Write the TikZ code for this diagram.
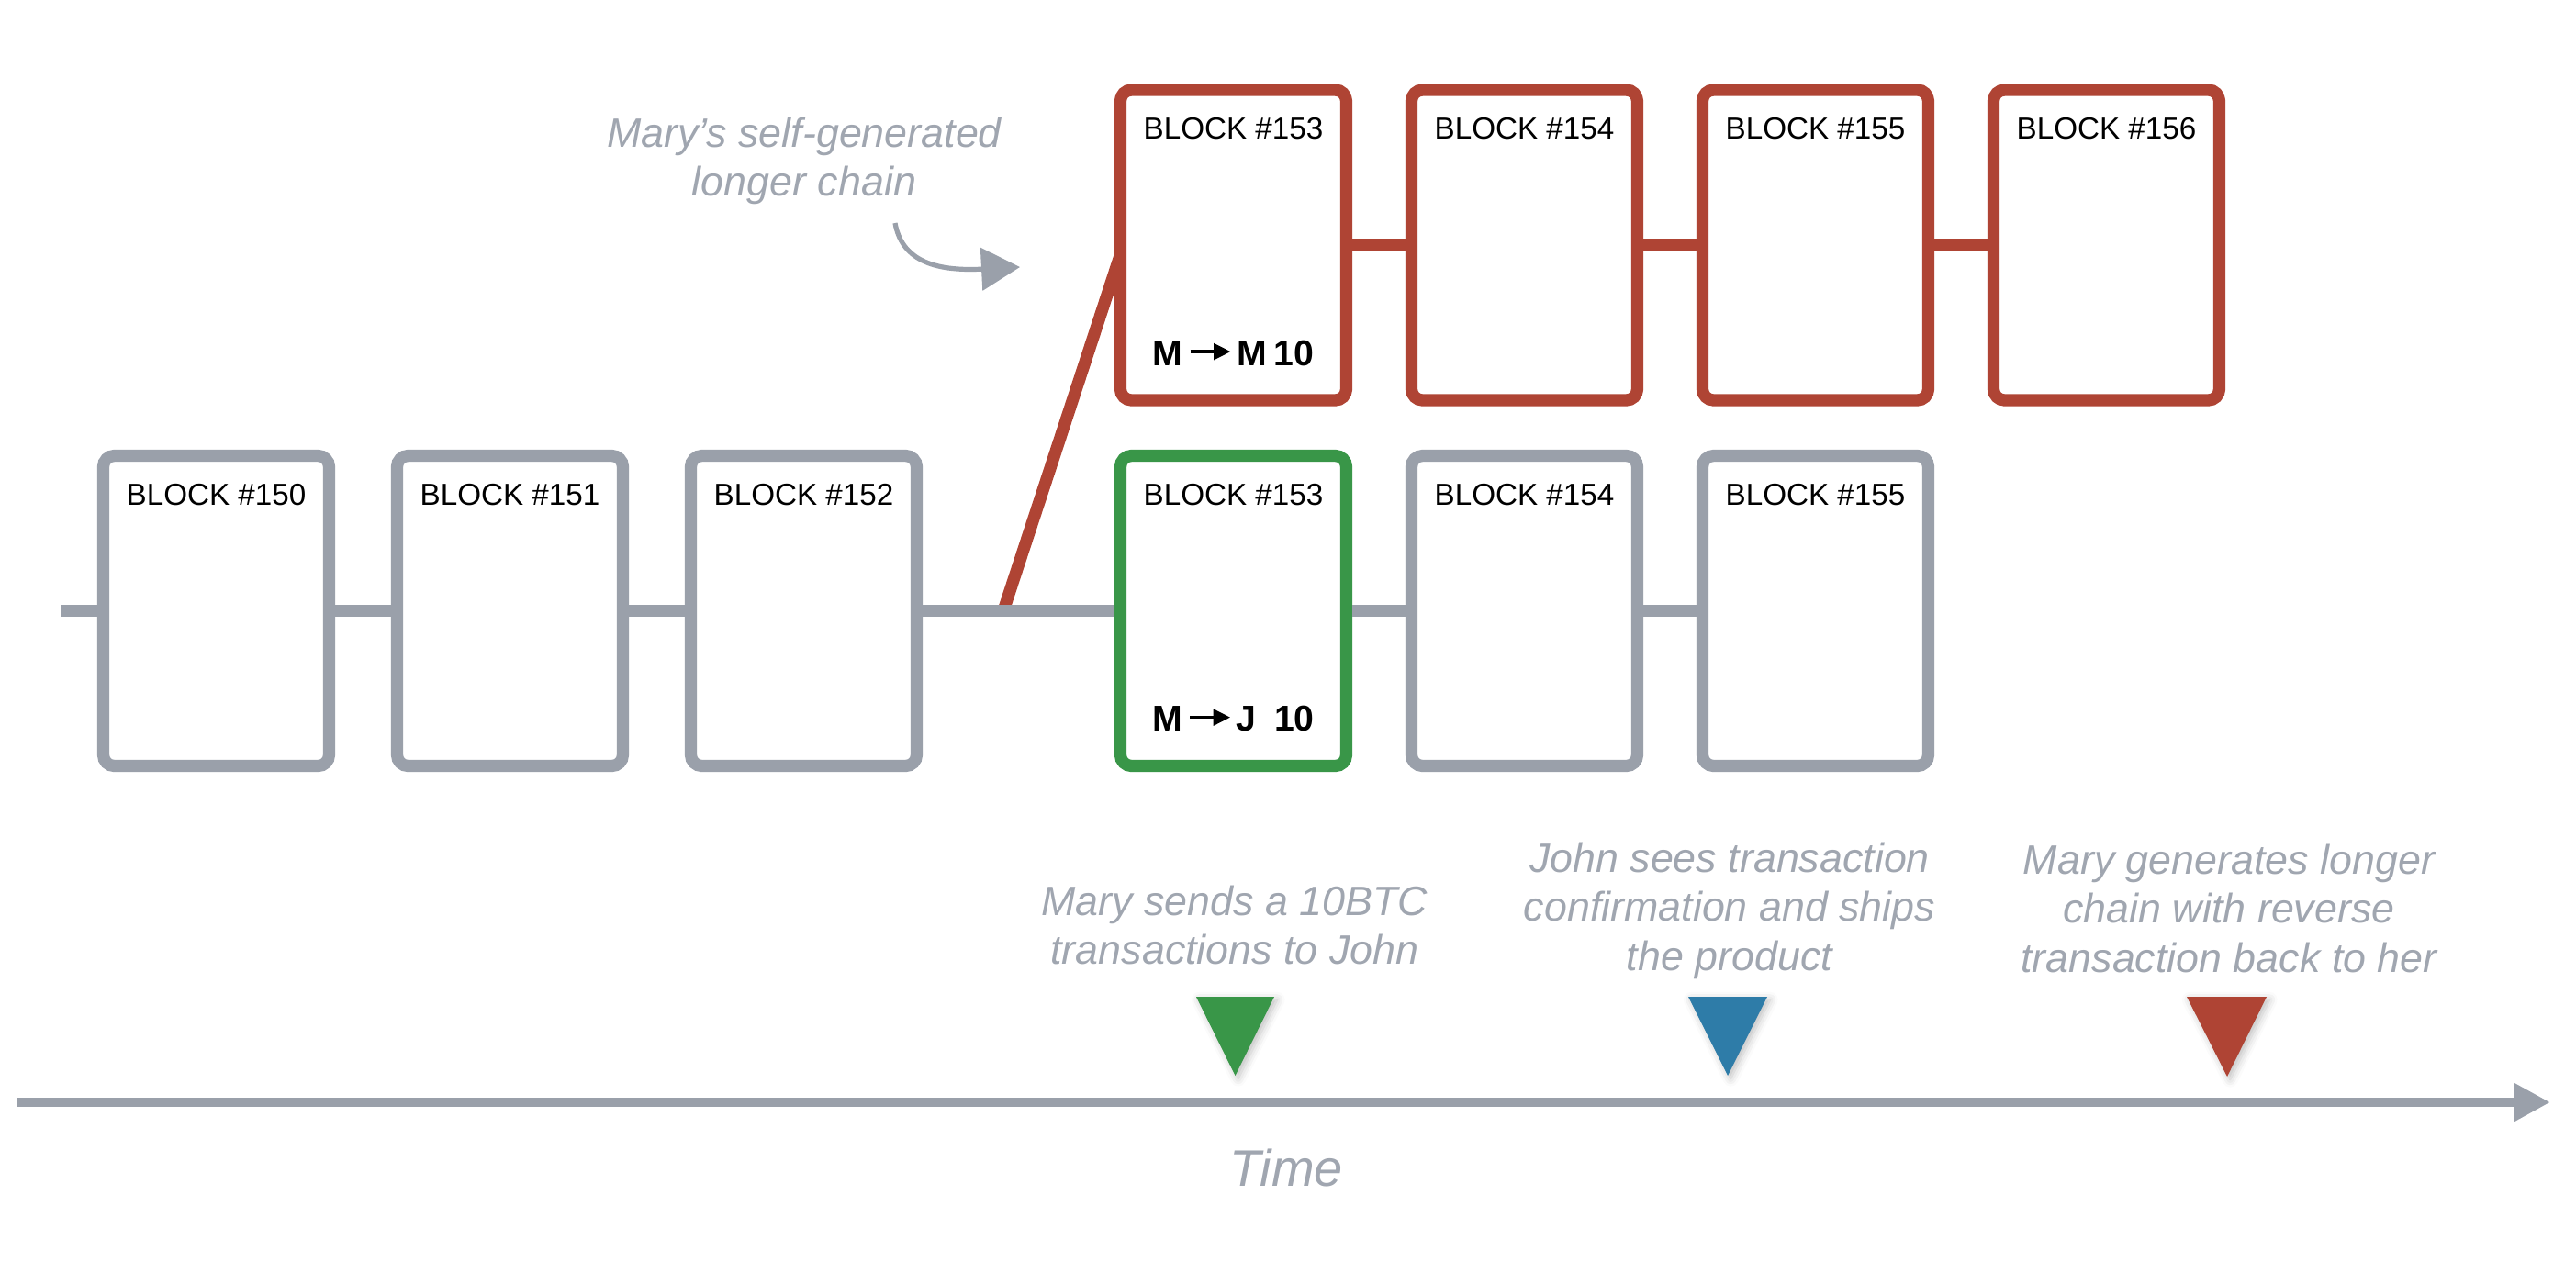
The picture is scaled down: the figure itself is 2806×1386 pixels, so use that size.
\documentclass[tikz,border=0pt]{standalone}
\usepackage{fontspec}
\setmainfont{Liberation Sans}
\usetikzlibrary{arrows.meta,shadows.blur,calc}
\definecolor{lgray}{RGB}{154,160,170}
\definecolor{tgray}{RGB}{160,166,176}
\definecolor{bred}{RGB}{175,68,52}
\definecolor{bgreen}{RGB}{57,150,72}
\definecolor{bblue}{RGB}{46,124,168}
\newcommand{\txarrow}{\hspace{1.6pt}\tikz[baseline=0pt]\draw[black, line width=0.85pt,
  -{Triangle[length=4.6pt,width=4.4pt]}] (0pt,3.75pt) -- (11pt,3.75pt);\hspace{1.2pt}}
\begin{document}
\begin{tikzpicture}[x=0.25pt,y=-0.25pt,
  blk/.style={draw=#1, line width=3.3pt, fill=white, rounded corners=3pt,
    minimum width=61.5pt, minimum height=84.5pt, inner sep=0pt},
  link/.style={draw=#1, line width=3.3pt},
  blabel/.style={anchor=base, inner sep=0pt, font=\fontsize{8.3pt}{10pt}\selectfont},
  txlabel/.style={anchor=base, inner sep=0pt, font=\fontsize{9.8pt}{12pt}\selectfont\bfseries},
  note/.style={anchor=north, inner sep=0pt, align=center, text=tgray,
    font=\fontsize{11.2pt}{13.4pt}\selectfont\itshape},
  tri/.style={fill=#1, blur shadow={shadow xshift=0.8pt, shadow yshift=-0.8pt,
    shadow blur steps=4, shadow opacity=25}}
]
\useasboundingbox (0,0) rectangle (2806,1386);

% lower chain
\node[blk=lgray] (b150) at (235.5,665.5) {};
\node[blk=lgray] (b151) at (555.5,665.5) {};
\node[blk=lgray] (b152) at (875.5,665.5) {};
\node[blk=bgreen] (g153) at (1343.5,665.5) {};
\node[blk=lgray] (g154) at (1660.5,665.5) {};
\node[blk=lgray] (g155) at (1977.5,665.5) {};
% upper chain
\node[blk=bred] (r153) at (1343.5,267) {};
\node[blk=bred] (r154) at (1660.5,267) {};
\node[blk=bred] (r155) at (1977.5,267) {};
\node[blk=bred] (r156) at (2294.5,267) {};

% connectors (anchors lie on the outer edge of each stroke)
\coordinate (start) at (66,665.5);
\coordinate (fork) at (1093,665.5);
\draw[link=bred] (fork) -- ($(r153.west)+(6.6,10)$);
\draw[link=lgray] (start) -- (b150.west);
\draw[link=lgray] (b150.east) -- (b151.west);
\draw[link=lgray] (b151.east) -- (b152.west);
\draw[link=lgray] (b152.east) -- (g153.west);
\draw[link=lgray] (g153.east) -- (g154.west);
\draw[link=lgray] (g154.east) -- (g155.west);
\draw[link=bred] (r153.east) -- (r154.west);
\draw[link=bred] (r154.east) -- (r155.west);
\draw[link=bred] (r155.east) -- (r156.west);

% block labels
\node[blabel] (l150) at ($(b150.north)+(0,60.5)$) {BLOCK \#150};
\node[blabel] (l151) at ($(b151.north)+(0,60.5)$) {BLOCK \#151};
\node[blabel] (l152) at ($(b152.north)+(0,60.5)$) {BLOCK \#152};
\node[blabel] (lg153) at ($(g153.north)+(0,60.5)$) {BLOCK \#153};
\node[blabel] (lg154) at ($(g154.north)+(0,60.5)$) {BLOCK \#154};
\node[blabel] (lg155) at ($(g155.north)+(0,60.5)$) {BLOCK \#155};
\node[blabel] (lr153) at ($(r153.north)+(0,60.5)$) {BLOCK \#153};
\node[blabel] (lr154) at ($(r154.north)+(0,60.5)$) {BLOCK \#154};
\node[blabel] (lr155) at ($(r155.north)+(0,60.5)$) {BLOCK \#155};
\node[blabel] (lr156) at ($(r156.north)+(0,60.5)$) {BLOCK \#156};

% transactions
\node[txlabel] (txm) at ($(r153.south)+(0,-44.5)$) {M\txarrow M\hspace{0.2em}10};
\node[txlabel] (txj) at ($(g153.south)+(0,-44.5)$) {M\txarrow J\hspace{0.5em}10};

% annotation with curved arrow
\node[note] (mnote) at (876,127) {Mary’s self-generated\\longer chain};
\coordinate (ca) at (975,243);
\coordinate (cb) at (1111,291);
\draw[lgray, line width=1.3pt, -{Triangle[length=10.5pt,width=11.5pt]}]
  (ca) .. controls (982,282) and (1015,296) .. (cb);

% event labels
\node[note] (e1) at (1345,964) {Mary sends a 10BTC\\transactions to John};
\node[note] (e2) at (1884,917) {John sees transaction\\confirmation and ships\\the product};
\node[note] (e3) at (2428,919) {Mary generates longer\\chain with reverse\\transaction back to her};

% markers
\fill[tri=bgreen] (1303,1086) -- (1388,1086) -- (1345.5,1172) -- cycle;
\fill[tri=bblue] (1839,1086) -- (1925,1086) -- (1882,1172) -- cycle;
\fill[tri=bred] (2382,1086) -- (2469,1086) -- (2426,1173) -- cycle;

% time axis
\coordinate (t0) at (18,1201);
\coordinate (t1) at (2778,1201);
\draw[lgray, line width=2.7pt, -{Triangle[length=10pt,width=10pt]}] (t0) -- (t1);
\node[anchor=base, inner sep=0pt, text=tgray, font=\fontsize{14pt}{16pt}\selectfont\itshape] (time) at (1401,1292) {Time};
\end{tikzpicture}
\end{document}
